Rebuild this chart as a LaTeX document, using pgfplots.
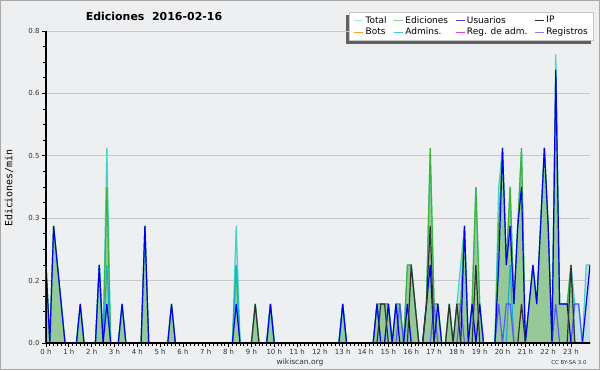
\documentclass[border=0pt]{standalone}
\usepackage{fontspec}
\setmainfont{DejaVu Sans}
\setmonofont{DejaVu Sans Mono}
\usepackage{pgfplots}
\pgfplotsset{compat=1.18}
\usepackage{pgfplotstable}

\pgfdeclarelayer{bglayer}
\pgfdeclarelayer{shadowlayer}
\pgfsetlayers{bglayer,shadowlayer,main}

\definecolor{bg}{RGB}{238,239,241}
\definecolor{framegray}{RGB}{170,170,170}
\definecolor{gridgray}{RGB}{200,200,200}
\definecolor{totfill}{RGB}{196,222,232}
\definecolor{edfill}{RGB}{150,200,152}
\definecolor{totline}{RGB}{64,214,198}
\definecolor{edline}{RGB}{60,180,60}
\definecolor{usucol}{RGB}{0,0,235}
\definecolor{admcol}{RGB}{24,176,216}
\definecolor{ipcol}{RGB}{50,50,50}
\definecolor{regcol}{RGB}{80,80,255}
\definecolor{lgtot}{RGB}{168,232,224}
\definecolor{lged}{RGB}{144,208,144}
\definecolor{lgusu}{RGB}{64,64,224}
\definecolor{lgip}{RGB}{48,48,48}
\definecolor{lgbot}{RGB}{240,160,48}
\definecolor{lgadm}{RGB}{64,200,224}
\definecolor{lgrad}{RGB}{208,80,224}
\definecolor{lgreg}{RGB}{128,128,240}
\definecolor{ticktext}{RGB}{50,50,50}

\pgfplotstableread{
x T E U I A R
0 0.2 0.2 0.2 0 0 0
1 0 0 0 0 0 0
2 0.3 0.3 0.3 0 0 0
3 0.2 0.2 0.2 0 0 0
4 0.1 0.1 0.1 0 0 0
5 0 0 0 0 0 0
6 0 0 0 0 0 0
7 0 0 0 0 0 0
8 0 0 0 0 0 0
9 0.1 0.1 0.1 0 0 0
10 0 0 0 0 0 0
11 0 0 0 0 0 0
12 0 0 0 0 0 0
13 0 0 0 0 0 0
14 0.2 0.2 0.2 0 0.2 0
15 0 0 0 0 0 0
16 0.5 0.4 0.1 0 0.2 0
17 0 0 0 0 0 0
18 0 0 0 0 0 0
19 0 0 0 0 0 0
20 0.1 0.1 0.1 0 0 0
21 0 0 0 0 0 0
22 0 0 0 0 0 0
23 0 0 0 0 0 0
24 0 0 0 0 0 0
25 0 0 0 0 0 0
26 0.3 0.3 0.3 0 0 0
27 0 0 0 0 0 0
28 0 0 0 0 0 0
29 0 0 0 0 0 0
30 0 0 0 0 0 0
31 0 0 0 0 0 0
32 0 0 0 0 0 0
33 0.1 0.1 0.1 0 0 0
34 0 0 0 0 0 0
35 0 0 0 0 0 0
36 0 0 0 0 0 0
37 0 0 0 0 0 0
38 0 0 0 0 0 0
39 0 0 0 0 0 0
40 0 0 0 0 0 0
41 0 0 0 0 0 0
42 0 0 0 0 0 0
43 0 0 0 0 0 0
44 0 0 0 0 0 0
45 0 0 0 0 0 0
46 0 0 0 0 0 0
47 0 0 0 0 0 0
48 0 0 0 0 0 0
49 0 0 0 0 0 0
50 0.3 0.2 0.1 0 0.2 0
51 0 0 0 0 0 0
52 0 0 0 0 0 0
53 0 0 0 0 0 0
54 0 0 0 0 0 0
55 0.1 0.1 0 0.1 0 0
56 0 0 0 0 0 0
57 0 0 0 0 0 0
58 0 0 0 0 0 0
59 0.1 0.1 0.1 0 0.1 0
60 0 0 0 0 0 0
61 0 0 0 0 0 0
62 0 0 0 0 0 0
63 0 0 0 0 0 0
64 0 0 0 0 0 0
65 0 0 0 0 0 0
66 0 0 0 0 0 0
67 0 0 0 0 0 0
68 0 0 0 0 0 0
69 0 0 0 0 0 0
70 0 0 0 0 0 0
71 0 0 0 0 0 0
72 0 0 0 0 0 0
73 0 0 0 0 0 0
74 0 0 0 0 0 0
75 0 0 0 0 0 0
76 0 0 0 0 0 0
77 0 0 0 0 0 0
78 0.1 0.1 0.1 0 0.1 0
79 0 0 0 0 0 0
80 0 0 0 0 0 0
81 0 0 0 0 0 0
82 0 0 0 0 0 0
83 0 0 0 0 0 0
84 0 0 0 0 0 0
85 0 0 0 0 0 0
86 0 0 0 0 0 0
87 0.1 0.1 0.1 0 0.1 0
88 0.1 0.1 0 0.1 0 0
89 0.1 0.1 0 0.1 0 0
90 0.1 0.1 0.1 0 0.1 0
91 0 0 0 0 0 0
92 0.1 0.1 0.1 0 0 0
93 0.1 0.1 0 0 0 0.1
94 0 0 0 0 0 0
95 0.2 0.2 0.1 0 0.1 0
96 0.2 0.2 0 0.2 0 0
97 0.1 0.1 0 0.1 0 0
98 0 0 0 0 0 0
99 0 0 0 0 0 0
100 0.1 0.1 0.1 0.1 0 0
101 0.5 0.5 0.2 0.3 0 0
102 0.1 0.1 0 0 0 0.1
103 0.1 0.1 0.1 0 0 0
104 0 0 0 0 0 0
105 0 0 0 0 0 0
106 0.1 0.1 0 0.1 0 0
107 0 0 0 0 0 0
108 0.1 0.1 0 0.1 0 0
109 0.2 0.1 0 0 0 0.1
110 0.3 0.3 0.3 0 0 0
111 0 0 0 0 0 0
112 0.1 0.1 0.1 0 0 0
113 0.4 0.4 0 0.2 0 0
114 0.1 0.1 0.1 0 0 0
115 0 0 0 0 0 0
116 0 0 0 0 0 0
117 0 0 0 0 0 0
118 0 0 0 0 0 0
119 0.4 0.3 0.2 0 0 0.1
120 0.5 0.5 0.5 0 0 0
121 0.2 0.2 0.2 0 0 0.1
122 0.4 0.4 0.3 0 0.2 0.1
123 0.1 0.1 0.1 0 0 0
124 0.3 0.3 0.3 0 0 0
125 0.5 0.5 0.4 0.1 0 0
126 0 0 0 0 0 0
127 0.1 0.1 0.1 0 0 0
128 0.2 0.2 0.2 0 0 0
129 0.1 0.1 0.1 0 0 0
130 0.3 0.3 0.3 0 0 0
131 0.5 0.5 0.5 0 0 0
132 0.3 0.3 0.3 0 0 0
133 0 0 0 0 0 0
134 0.74 0.69 0.7 0 0 0.1
135 0.1 0.1 0.1 0 0 0
136 0.1 0.1 0.1 0 0 0
137 0.1 0.1 0.1 0 0 0
138 0.2 0.2 0 0.2 0 0
139 0.1 0 0 0 0 0.1
140 0.1 0 0 0 0 0.1
141 0 0 0 0 0 0
142 0.2 0 0.1 0 0 0
143 0.2 0 0.2 0 0 0
}\data

\begin{document}
\begin{tikzpicture}[x=1bp,y=1bp]
\useasboundingbox (-46,-27) rectangle (554,343);
\begin{pgfonlayer}{bglayer}
\fill[bg] (-46,-27) rectangle (554,343);
\draw[framegray, line width=1bp] (-45.5,-26.5) rectangle (553.5,342.5);
\end{pgfonlayer}
\begin{axis}[
  at={(0,0)}, anchor=south west,
  scale only axis, width=544bp, height=312bp,
  xmin=0, xmax=143, ymin=0, ymax=0.8,
  axis lines=left, axis line style={-, line width=1.2bp, black},
  xtick={0,6,...,138},
  xticklabels={0 h,1 h,2 h,3 h,4 h,5 h,6 h,7 h,8 h,9 h,10 h,11 h,12 h,13 h,14 h,15 h,16 h,17 h,18 h,19 h,20 h,21 h,22 h,23 h},
  minor x tick num=5,
  ytick={0,0.16,0.32,0.48,0.64,0.8},
  yticklabels={0.0,0.2,0.3,0.5,0.6,0.8},
  minor y tick num=3,
  tick align=outside,
  major tick length=4bp, minor tick length=3bp,
  tick style={black, line width=0.8bp},
  ymajorgrids, grid style={gridgray, line width=0.9bp},
  tick label style={font=\fontsize{7}{8}\selectfont, text=ticktext},
  xticklabel style={yshift=1bp},
  yticklabel style={xshift=1bp},
  legend columns=4,
  legend cell align=left,
  legend style={at={(1.0074,1.061)}, anchor=north east, name=lgd,
    draw=gray!45, fill=white, line width=0.6bp,
    font=\fontsize{9}{10}\selectfont, text=black,
    inner xsep=4bp, inner ysep=2bp,
    row sep=-0.5bp,
    /tikz/every even column/.append style={column sep=5bp}},
  legend image code/.code={\draw[#1, line width=0.9bp] (0bp,0bp) -- (9bp,0bp);},
  every axis plot/.append style={no marks, line width=1.2bp},
]
\addplot[fill=totfill, draw=none, forget plot] table[x=x,y=T]{\data} \closedcycle;
\addplot[fill=edfill, draw=none, forget plot] table[x=x,y=E]{\data} \closedcycle;
\addplot[totline, forget plot] table[x=x,y=T]{\data};
\addplot[edline, forget plot] table[x=x,y=E]{\data};
\addplot[admcol, forget plot] table[x=x,y=A]{\data};
\addplot[regcol, opacity=0.9, forget plot] table[x=x,y=R]{\data};
\addplot[usucol, forget plot] table[x=x,y=U]{\data};
\addplot[ipcol, forget plot] table[x=x,y=I]{\data};
\draw[black, line width=1.2bp] (rel axis cs:0,1) -- (rel axis cs:0,0) -- (rel axis cs:1,0);
\addlegendimage{lgtot}\addlegendentry{Total}
\addlegendimage{lged}\addlegendentry{Ediciones}
\addlegendimage{lgusu}\addlegendentry{Usuarios}
\addlegendimage{lgip}\addlegendentry{IP}
\addlegendimage{lgbot}\addlegendentry{Bots}
\addlegendimage{lgadm}\addlegendentry{Admins.}
\addlegendimage{lgrad}\addlegendentry{Reg. de adm.}
\addlegendimage{lgreg}\addlegendentry{Registros}
\end{axis}
\begin{pgfonlayer}{shadowlayer}
\fill[black!62] ([xshift=-3.5bp,yshift=-3.5bp]lgd.south west) rectangle ([xshift=-3.5bp,yshift=-3.5bp]lgd.north east);
\end{pgfonlayer}
\node at (108,326.3) {\fontsize{11}{13}\selectfont\bfseries Ediciones\ \ 2016-02-16};
\node[rotate=90] at (-37,155) {\ttfamily\fontsize{10}{12}\selectfont Ediciones/min};
\node[text=ticktext] at (254,-19) {\fontsize{7.5}{9}\selectfont wikiscan.org};
\node[text=ticktext] at (523,-19) {\fontsize{5.5}{7}\selectfont CC BY-SA 3.0};
\end{tikzpicture}
\end{document}
